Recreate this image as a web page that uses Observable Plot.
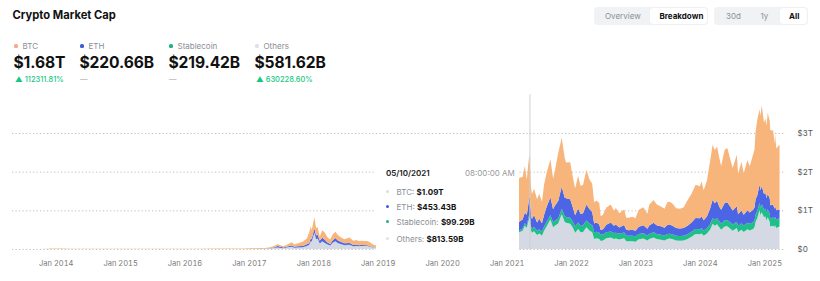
<!DOCTYPE html>
<html><head><meta charset="utf-8">
<script src="https://cdn.jsdelivr.net/npm/d3@7"></script>
<script src="https://cdn.jsdelivr.net/npm/@observablehq/plot@0.6"></script>
<style>
html,body{margin:0;padding:0;background:#fff;}
body{width:820px;height:281px;position:relative;overflow:hidden;font-family:Inter,"Noto Sans",sans-serif;color:#111;}
.a{position:absolute;line-height:1;white-space:nowrap;}
.title{font-size:11.2px;font-weight:700;color:#111;}
.lab{font-size:8px;color:#8a8e96;}
.dot{position:absolute;width:4px;height:4px;border-radius:1.5px;}
.val{font-size:15.6px;font-weight:700;color:#111;letter-spacing:-0.1px;}
.chg{font-size:7.5px;color:#16c784;font-weight:500;}
.dash{font-size:7.5px;color:#aaa;}
.grp{position:absolute;top:7px;height:18px;background:#f1f2f4;border-radius:4px;}
.sel{position:absolute;top:1px;height:16px;background:#fff;border-radius:3px;box-shadow:0 0 1px rgba(0,0,0,0.08);}
.btn{font-size:8px;color:#8b8f96;}
.btn.on{color:#111;font-weight:700;}
#tip{position:absolute;left:376px;top:150px;width:143px;height:102px;background:#fff;z-index:5;}
#tiptext{position:absolute;left:0;top:0;z-index:6;}
.tt{font-size:8px;}
.tdot{position:absolute;width:3px;height:3px;border-radius:50%;}
#chart{position:absolute;left:0;top:90px;}
</style>
</head><body>
<div id="chart"></div>
<div id="header"></div>
<div id="tip"></div>
<div id="tiptext"></div>
<script>
// ---------- data (values in $B) ----------
const seriesNames = ["BTC", "ETH", "Stablecoin", "Others"];
const seriesColors = ["#f7b57c", "#4c65e4", "#1fbf88", "#d4d9e3"];
const legendDotColors = ["#f4a988", "#3f5bd8", "#22b37d", "#e0e2e6"];
const headlineValues = ["$1.68T", "$220.66B", "$219.42B", "$581.62B"];
const headlineChanges = ["112311.81%", null, null, "630228.60%"];
const tooltipDate = "05/10/2021";
const tooltipTime = "08:00:00 AM";
const tooltipValues = ["$1.09T", "$453.43B", "$99.29B", "$813.59B"];
const yTicks = [0, 1e12, 2e12, 3e12];
const yTickLabels = ["$0", "$1T", "$2T", "$3T"];
const xTickYears = [2014,2015,2016,2017,2018,2019,2020,2021,2022,2023,2024,2025];
const hoverDate = "2021-05-10";

const dates = [
"2013-04-28","2013-06-01","2013-08-01","2013-10-01","2013-11-15","2013-12-04","2014-01-01","2014-02-01","2014-04-01","2014-06-01","2014-08-01","2014-10-01","2014-12-01","2015-02-01","2015-04-01","2015-06-01","2015-08-01","2015-10-01","2015-12-01","2016-02-01","2016-04-01","2016-06-15","2016-08-01","2016-10-01","2016-12-01",
"2017-01-05","2017-02-01","2017-03-01","2017-04-01","2017-05-01","2017-05-25","2017-06-12","2017-07-15","2017-08-01","2017-09-01","2017-09-15","2017-10-01","2017-11-01","2017-11-25","2017-12-08","2017-12-17","2017-12-22",
"2018-01-07","2018-01-16","2018-01-25","2018-02-06","2018-02-20","2018-03-05","2018-03-20","2018-04-06","2018-04-20","2018-05-05","2018-05-20","2018-06-01","2018-06-25","2018-07-25","2018-08-15","2018-09-01","2018-09-15","2018-10-01","2018-11-01","2018-11-15","2018-12-01","2018-12-15",
"2019-02-01","2019-04-01","2019-06-25","2019-09-01","2019-11-01","2020-01-01","2020-03-15","2020-06-01","2020-08-15","2020-10-15","2020-12-01","2021-01-08","2021-02-01","2021-02-21","2021-03-01",
"2021-03-13","2021-04-01","2021-04-14","2021-04-25","2021-05-03","2021-05-10","2021-05-12","2021-05-19","2021-05-24","2021-06-05","2021-06-22","2021-07-05","2021-07-20","2021-08-01","2021-08-15","2021-09-06","2021-09-21","2021-10-01","2021-10-20","2021-11-09","2021-11-26","2021-12-04","2021-12-27",
"2022-01-10","2022-01-24","2022-02-10","2022-02-24","2022-03-10","2022-03-29","2022-04-15","2022-05-01","2022-05-12","2022-05-25","2022-06-10","2022-06-18","2022-07-01","2022-07-20","2022-08-14","2022-09-01","2022-09-12","2022-10-01","2022-10-29","2022-11-10","2022-11-25","2022-12-15",
"2023-01-01","2023-01-20","2023-02-15","2023-03-10","2023-03-20","2023-04-14","2023-05-01","2023-05-25","2023-06-15","2023-07-01","2023-07-15","2023-08-01","2023-08-20","2023-09-10","2023-10-01","2023-10-24","2023-11-15","2023-12-08",
"2024-01-01","2024-01-11","2024-01-23","2024-02-10","2024-02-28","2024-03-14","2024-03-25","2024-04-08","2024-04-20","2024-05-01","2024-05-21","2024-06-05","2024-06-24","2024-07-05","2024-07-29","2024-08-05","2024-08-24","2024-09-06","2024-09-27","2024-10-10","2024-10-29","2024-11-06","2024-11-12","2024-11-22","2024-12-05","2024-12-10","2024-12-17","2024-12-30",
"2025-01-07","2025-01-13","2025-01-20","2025-02-01","2025-02-03","2025-02-20","2025-02-28","2025-03-02","2025-03-10","2025-03-28"
];
const btc = [
1.5,1.35,1.15,1.55,5,13.5,9.5,10,6,8.2,7.7,5.2,5.1,3.1,3.5,3.2,4.2,3.5,5.3,5.7,6.5,11.5,9.4,9.8,12,
17.5,15.5,19.5,17.5,23,39,45,32,45,80,55,72,110,145,270,320,230,
290,190,190,115,190,190,140,113,150,165,140,128,105,140,110,125,112,114,110,98,72,57,
60,72,200,170,165,130,100,175,220,210,350,760,630,1080,900,
1140,1100,1200,920,1060,1090,930,720,650,680,610,640,560,780,880,980,800,900,1240,1270,1030,930,960,
790,690,840,720,740,900,770,730,550,570,560,360,380,450,470,390,430,370,400,310,320,340,
320,440,470,390,540,590,540,510,490,590,590,570,510,505,530,660,740,860,
830,900,780,930,1220,1420,1380,1400,1270,1130,1380,1400,1200,1100,1330,1050,1260,1070,1300,1200,1430,1490,1750,1960,1950,1930,2090,1850,
1920,1870,2100,2000,1940,1920,1670,1860,1600,1680
];
const eth = [
0,0,0,0,0,0,0,0,0,0,0,0,0,0,0,0,0.2,0.05,0.07,0.2,0.9,1.6,0.9,1.1,0.7,
0.9,0.9,1.5,4.5,7.5,16,37,17,21,36,24,29,29,45,43,70,65,
110,100,105,68,90,84,54,38,60,80,70,58,45,48,28,30,22,23,20,18,12,9,
11,15,34,18,20,14,14,26,48,43,70,140,155,225,165,
225,230,280,270,350,453.43,480,300,250,310,215,270,210,300,390,460,340,390,450,570,480,480,480,
370,290,370,310,310,410,370,340,230,240,210,120,130,190,230,190,210,160,195,155,145,155,
145,190,205,170,215,250,225,220,200,235,235,220,200,195,200,220,240,280,
280,310,265,300,400,480,430,450,380,360,450,460,400,360,400,300,330,280,320,290,320,340,400,400,470,450,480,400,
410,370,400,390,340,330,270,290,245,220.66
];
const stablecoin = [
0,0,0,0,0,0,0,0,0,0,0,0,0,0,0,0,0,0,0,0,0,0,0,0,0,
0.01,0.01,0.02,0.05,0.1,0.1,0.2,0.3,0.4,0.4,0.4,0.5,0.6,0.7,1,1.2,1.2,
1.5,1.8,2,2.2,2.2,2.3,2.3,2.4,2.5,2.6,2.7,2.8,2.9,2.9,2.9,2.8,2.8,2.8,2.5,2.4,2.3,2.3,
2.5,3,4,4.2,4.5,5,7,12,16,22,26,30,36,42,45,
50,60,65,70,80,99.29,100,105,105,108,110,112,113,115,118,120,125,128,130,140,145,150,155,
160,162,165,168,172,178,182,185,170,165,162,160,158,155,153,152,151,150,148,145,143,140,
138,137,136,132,130,130,130,129,128,127,126,125,124,123,122,124,127,130,
133,135,136,138,142,150,152,155,157,158,160,161,162,163,165,166,167,168,170,172,175,178,182,188,195,198,200,202,
204,205,206,208,209,212,214,215,217,219.42
];
const others = [
0.09,0.1,0.08,0.1,0.5,1.8,1.2,1.5,1,1.2,0.9,0.6,0.6,0.45,0.5,0.45,0.5,0.45,0.55,0.6,0.7,0.9,0.8,0.9,0.9,
1.4,1.8,3,6,14,30,38,22,36,55,35,40,45,80,110,200,190,
420,250,270,140,200,160,120,90,160,200,150,130,100,105,70,75,70,75,75,60,40,30,
40,55,75,50,50,45,35,60,95,75,100,180,250,380,340,
430,470,600,540,700,813.59,760,480,420,460,360,400,340,470,580,760,560,600,660,900,700,680,650,
560,420,520,430,440,560,480,430,260,280,260,210,220,280,300,260,270,245,280,200,200,200,
190,250,270,220,260,300,260,240,220,260,270,250,220,215,220,260,320,390,
380,400,340,400,500,650,600,640,560,500,580,590,520,470,540,430,500,440,510,480,520,560,700,800,1000,870,950,820,
840,740,820,700,580,600,560,620,540,581.62
];

// ---------- build long table ----------
const seriesArrays = {BTC: btc, ETH: eth, Stablecoin: stablecoin, Others: others};
const table = [];
dates.forEach((d, i) => {
  for (const s of ["Others", "Stablecoin", "ETH", "BTC"]) {
    table.push({date: new Date(d), series: s, value: seriesArrays[s][i] * 1e9});
  }
});

const font = "Inter, 'Noto Sans', sans-serif";
const chart = Plot.plot({
  width: 820, height: 191,
  marginLeft: 12, marginRight: 35, marginTop: 4.33, marginBottom: 32,
  style: {fontFamily: font, background: "transparent", overflow: "visible"},
  x: {type: "utc", domain: [new Date("2013-04-28"), new Date("2025-04-28")]},
  y: {domain: [0, 4e12]},
  color: {domain: seriesNames, range: seriesColors},
  marks: [
    Plot.gridY(yTicks, {stroke: "#bdbdbd", strokeOpacity: 1, strokeDasharray: "1.2,2.3", strokeWidth: 1}),
    Plot.areaY(table, {x: "date", y: "value", z: "series", fill: "series", order: ["Others", "Stablecoin", "ETH", "BTC"], fillOpacity: 1}),
    Plot.ruleX([new Date(hoverDate)], {stroke: "#cfcfcf", strokeWidth: 1}),
    Plot.axisY(yTicks, {anchor: "right", label: null, tickSize: 0, tickPadding: 12, fontSize: 8, fill: "#555", tickFormat: (d) => yTickLabels[yTicks.indexOf(d)]}),
    Plot.axisX(xTickYears.map(y => new Date(Date.UTC(y, 0, 1))), {label: null, tickSize: 0, tickPadding: 11.5, fontSize: 7.5, fill: "#7a7a7a", tickFormat: (d) => "Jan " + d.getUTCFullYear()})
  ]
});
document.getElementById("chart").appendChild(chart);

// ---------- header ----------
const H = document.getElementById("header");
const T = document.getElementById("tiptext");
function el(parent, cls, text, left, top, extra) {
  const e = document.createElement("div");
  e.className = "a " + cls;
  if (text != null) e.textContent = text;
  e.style.left = left + "px";
  e.style.top = top + "px";
  if (extra) Object.assign(e.style, extra);
  parent.appendChild(e);
  return e;
}
el(H, "title", "Crypto Market Cap", 12.5, 10.3);
const legendX = [13, 79, 168, 254];
seriesNames.forEach((s, i) => {
  const d = document.createElement("div");
  d.className = "dot";
  d.style.left = (legendX[i] + 0.5) + "px"; d.style.top = "43.7px";
  d.style.background = legendDotColors[i];
  H.appendChild(d);
  el(H, "lab", s, legendX[i] + 9.5, 41.7);
  el(H, "val", headlineValues[i], legendX[i] + 0.5, 55);
  if (headlineChanges[i]) el(H, "chg", "\u25B2 " + headlineChanges[i], legendX[i] + 2, 75.8);
  else el(H, "dash", "\u2014", legendX[i] + 1, 75.5);
});

// buttons
function group(left, width) {
  const g = document.createElement("div"); g.className = "grp";
  g.style.left = left + "px"; g.style.width = width + "px"; H.appendChild(g); return g;
}
const g1 = group(594, 114);
const s1 = document.createElement("div"); s1.className = "sel"; s1.style.left = "56px"; s1.style.width = "57px"; g1.appendChild(s1);
el(H, "btn", "Overview", 605, 12);
el(H, "btn on", "Breakdown", 659.5, 12);
const g2 = group(714, 94);
const s2 = document.createElement("div"); s2.className = "sel"; s2.style.left = "66px"; s2.style.width = "27px"; g2.appendChild(s2);
el(H, "btn", "30d", 726, 12);
el(H, "btn", "1y", 760.5, 12);
el(H, "btn on", "All", 789, 12);

// tooltip
el(T, "tt", tooltipDate, 386, 169, {fontWeight: "600", color: "#222"});
el(T, "tt", tooltipTime, 465, 169, {color: "#999"});
const rowY = [187.5, 202.5, 218, 234.5];
const tipDots = ["#e6dccf", "#3f5bd8", "#22b37d", "#dfe1e5"];
seriesNames.forEach((s, i) => {
  const d = document.createElement("div"); d.className = "tdot";
  d.style.left = "386px"; d.style.top = (rowY[i] + 2) + "px"; d.style.background = tipDots[i];
  T.appendChild(d);
  const t = el(T, "tt", null, 396.5, rowY[i], {color: "#8a8e96"});
  t.innerHTML = s + ": <b style='color:#111;font-weight:700'>" + tooltipValues[i] + "</b>";
});
</script>
</body></html>
